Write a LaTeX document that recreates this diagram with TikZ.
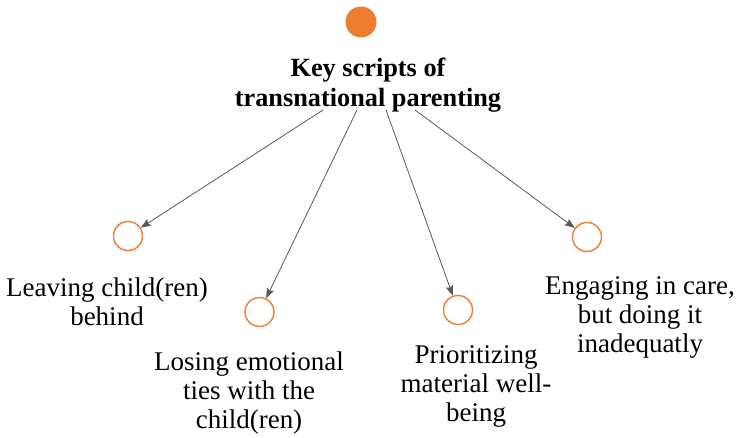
\documentclass[tikz,border=0pt]{standalone}
\usepackage{fontspec}
\setmainfont{Liberation Serif}
\usetikzlibrary{arrows.meta}
\definecolor{accent}{HTML}{ED7D31}
\definecolor{linkgray}{HTML}{595959}
\begin{document}
\begin{tikzpicture}[x=1pt,y=1pt,
  hub/.style={circle,fill=accent,draw=none,minimum size=31pt,inner sep=0pt},
  leaf/.style={circle,draw=accent,line width=1.4pt,fill=white,minimum size=29pt,inner sep=0pt},
  lbl/.style={align=center,inner sep=0pt,font=\fontsize{27}{29}\selectfont},
  link/.style={draw=linkgray,line width=0.8pt,-{Stealth[length=10pt,width=7.5pt,inset=1.5pt]}}]
\useasboundingbox (0,0) rectangle (739,437);
\node[hub] (hub) at (361,415) {};
\node[lbl,font=\fontsize{26.3}{30}\selectfont\bfseries] (title) at (368,352) {Key scripts of\\transnational parenting};
\node[leaf] (c1) at (128,201) {};
\node[leaf] (c2) at (259.5,125) {};
\node[leaf] (c3) at (458,127) {};
\node[leaf] (c4) at (587,200) {};
\node[lbl] (l1) at (107,135) {Leaving child(ren)\\behind};
\node[lbl] (l2) at (249,44) {Losing emotional\\ties with the\\child(ren)};
\node[lbl] (l3) at (476,50.5) {Prioritizing\\material well-\\being};
\node[lbl] (l4) at (640,119.5) {Engaging in care,\\but doing it\\inadequatly};
\coordinate (s1) at (323,327);
\coordinate (s2) at (357,327);
\coordinate (s3) at (386,327);
\coordinate (s4) at (415,327);
\draw[link] (s1) -- (c1);
\draw[link] (s2) -- (c2);
\draw[link] (s3) -- (c3);
\draw[link] (s4) -- (c4);
\end{tikzpicture}
\end{document}
